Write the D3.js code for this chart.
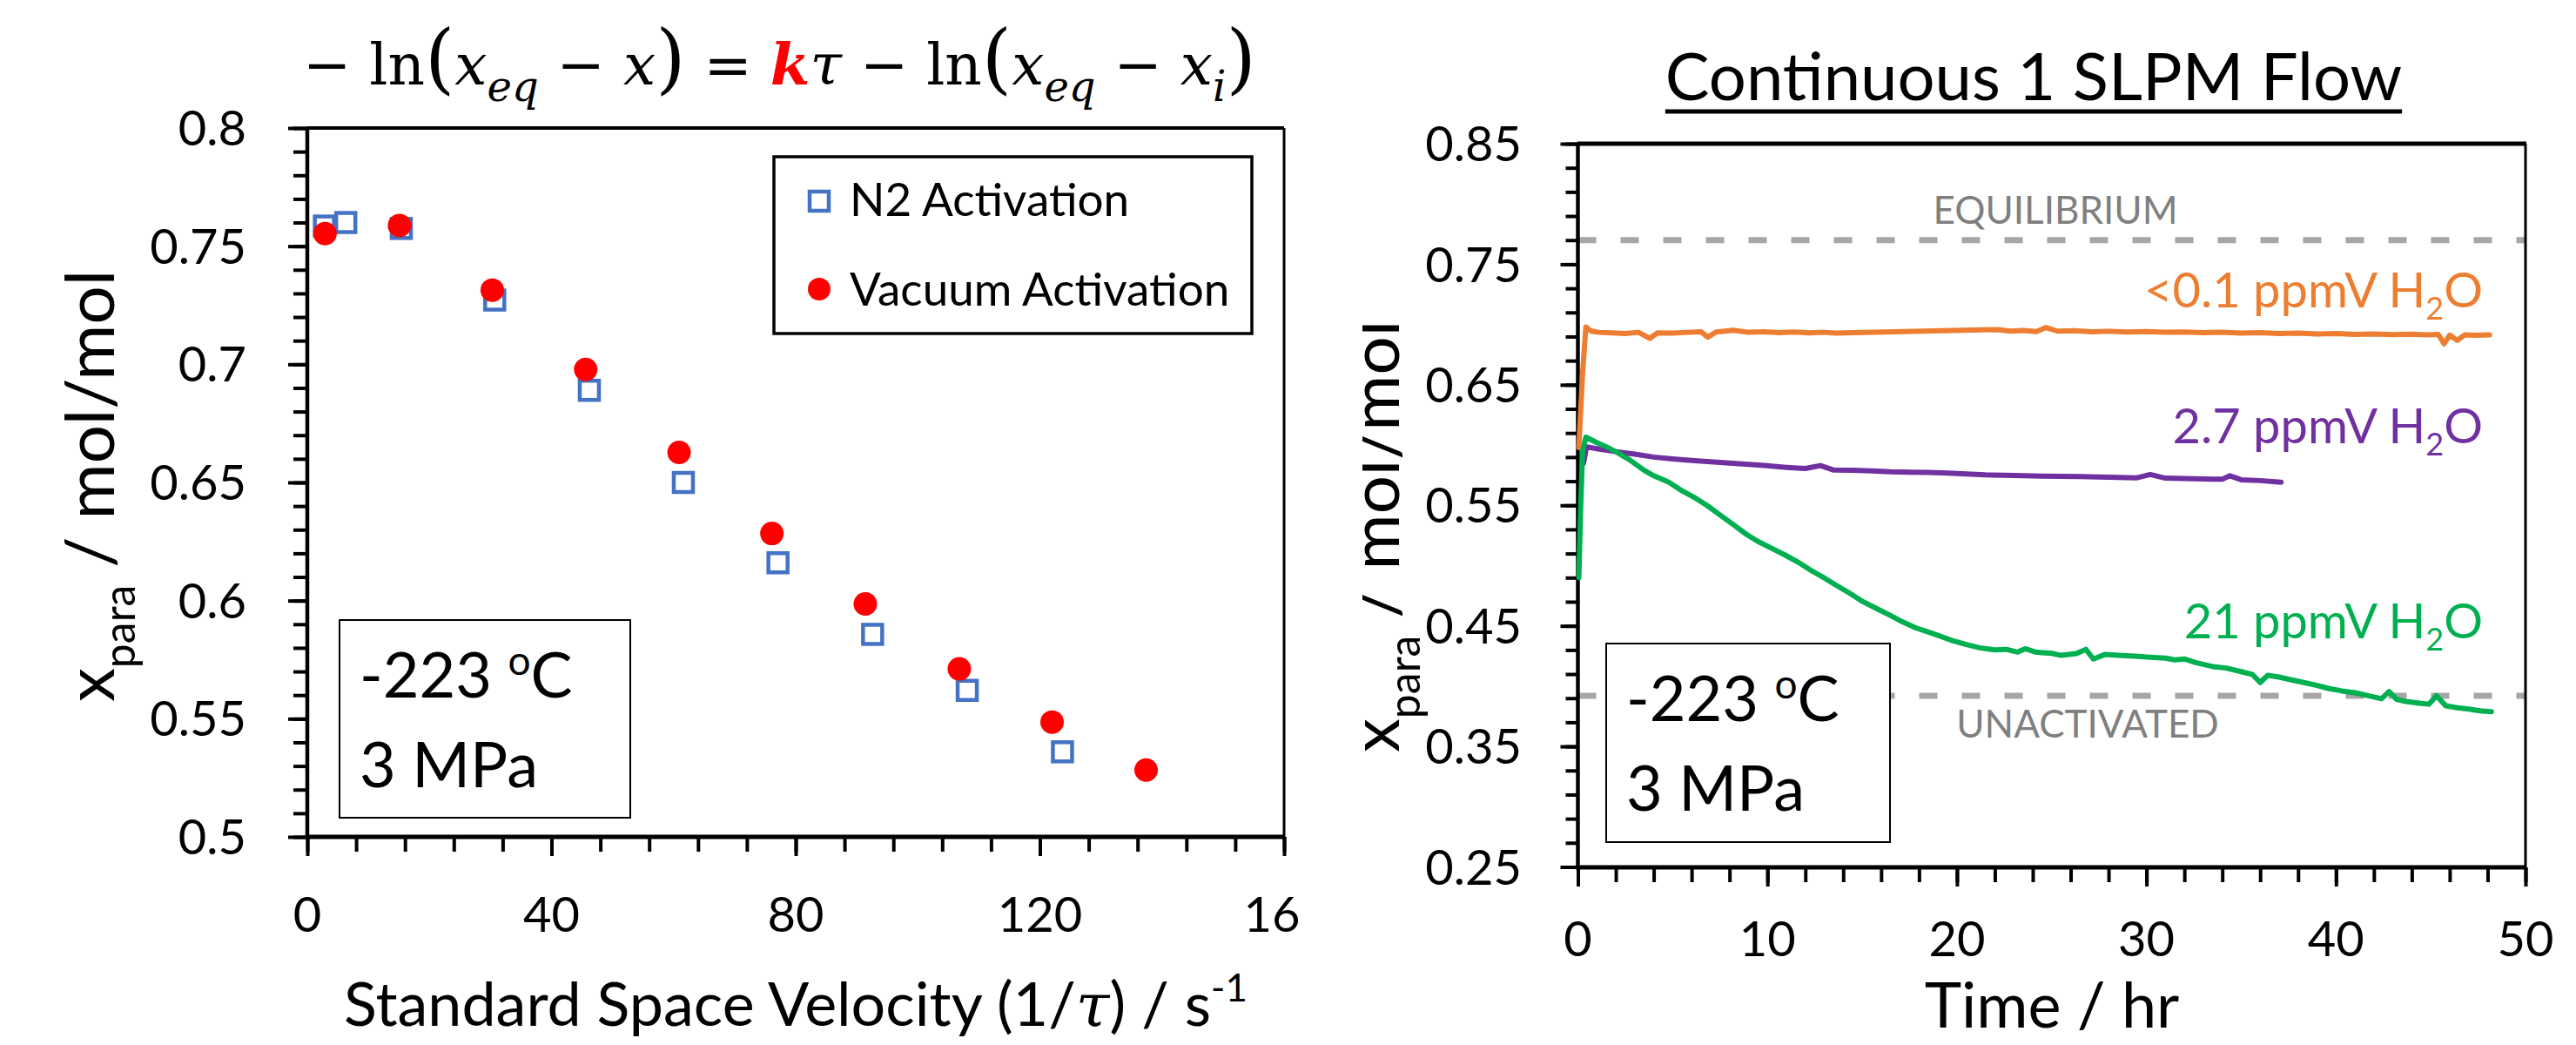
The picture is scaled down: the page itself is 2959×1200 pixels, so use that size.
<!DOCTYPE html>
<html>
<head>
<meta charset="utf-8">
<script src="https://cdn.jsdelivr.net/npm/d3@7"></script>
<style>
  body { margin: 0; background: #fff; }
  text { font-family: Lato, Carlito, "Open Sans", sans-serif; }
</style>
</head>
<body>
<svg id="chart" width="2959" height="1200"></svg>
<script>

// ---- left panel data: conversion vs space velocity ----
var velN2   = [2.8, 6.3, 15.4, 30.7, 46.2, 61.6, 77.1, 92.6, 108.1, 123.7];
var fracN2  = [0.7585, 0.760, 0.7575, 0.7272, 0.689, 0.650, 0.616, 0.5857, 0.562, 0.536];
var velVac  = [2.9, 15.1, 30.3, 45.6, 60.9, 76.1, 91.4, 106.8, 122.0, 137.4];
var fracVac = [0.7553, 0.7587, 0.7314, 0.6978, 0.6627, 0.6284, 0.5986, 0.5711, 0.5486, 0.5283];

var velTicks      = [0, 40, 80, 120, 160];
var velTickLabels = ["0", "40", "80", "120", "16"];   // last label is cut short in the original
var fracTicks      = [0.5, 0.55, 0.6, 0.65, 0.7, 0.75, 0.8];
var fracTickLabels = ["0.5", "0.55", "0.6", "0.65", "0.7", "0.75", "0.8"];

// ---- right panel data: continuous flow runs ----
var timeLow = [0.05, 0.12, 0.25, 0.42, 0.7, 1.1, 1.8, 2.5, 3.2, 3.8, 4.2, 5.0, 5.8, 6.5, 6.85, 7.3, 8.2, 9.0, 9.8,
  10.6, 11.4, 12.2, 13.0, 13.6, 14.1, 22.2, 22.8, 23.5, 24.2, 24.7, 25.3, 26.2, 27.1, 28.0, 29.0, 30.0, 31.0, 32.0,
  33.0, 34.0, 35.0, 36.0, 37.0, 38.0, 39.0, 40.0, 41.0, 42.0, 43.0, 44.0, 44.8, 45.4, 45.7, 46.0, 46.4, 46.8, 47.4, 48.1];
var fracLow = [0.598, 0.62, 0.66, 0.698, 0.6945, 0.6935, 0.6930, 0.6925, 0.6935, 0.6885, 0.6930, 0.6928, 0.6935,
  0.6940, 0.6895, 0.6938, 0.6952, 0.6935, 0.6940, 0.6932, 0.6938, 0.6930, 0.6935, 0.6928, 0.6930, 0.6958, 0.6945,
  0.6950, 0.6942, 0.6975, 0.6945, 0.6948, 0.6940, 0.6944, 0.6938, 0.6941, 0.6935, 0.6938, 0.6932, 0.6935, 0.6928,
  0.6932, 0.6925, 0.6928, 0.6922, 0.6925, 0.6918, 0.6921, 0.6916, 0.6919, 0.6914, 0.6917, 0.6840, 0.6912, 0.6868,
  0.6915, 0.6910, 0.6914];

var timeMid = [0.3, 0.45, 1.0, 2.0, 3.0, 4.0, 5.0, 6.0, 7.0, 8.0, 9.0, 10.0, 11.0, 12.0, 12.8, 13.5, 14.5, 15.5,
  16.5, 17.5, 18.5, 19.5, 20.5, 21.5, 22.5, 23.5, 24.5, 25.5, 26.5, 27.5, 28.5, 29.5, 30.2, 31.0, 32.0, 33.0, 34.0,
  34.4, 35.0, 36.0, 37.1];
var fracMid = [0.585, 0.5985, 0.5970, 0.5945, 0.5925, 0.5900, 0.5885, 0.5872, 0.5862, 0.5850, 0.5840, 0.5828,
  0.5815, 0.5805, 0.5830, 0.5792, 0.5790, 0.5785, 0.5778, 0.5775, 0.5772, 0.5768, 0.5760, 0.5752, 0.5750, 0.5746,
  0.5742, 0.5740, 0.5738, 0.5735, 0.5732, 0.5728, 0.5755, 0.5725, 0.5722, 0.5718, 0.5716, 0.5745, 0.5712, 0.5705,
  0.5692];

var timeHigh = [0.05, 0.15, 0.25, 0.42, 1.0, 1.5, 2.0, 2.7, 3.5, 4.0, 4.8, 5.5, 6.2, 6.8, 7.5, 8.2, 8.9, 9.5, 10.2,
  10.9, 11.6, 12.3, 13.0, 13.7, 14.4, 15.0, 15.8, 16.5, 17.1, 17.8, 18.5, 19.1, 19.8, 20.5, 21.2, 22.0, 22.6, 23.2,
  23.6, 24.2, 25.0, 25.5, 26.3, 26.8, 27.2, 27.8, 28.5, 29.4, 30.2, 31.0, 31.5, 32.0, 32.6, 33.5, 34.2, 35.0, 35.6,
  36.0, 36.4, 37.0, 37.6, 38.3, 39.0, 39.6, 40.3, 41.0, 41.7, 42.4, 42.8, 43.2, 43.7, 44.3, 44.9, 45.3, 45.8, 46.4,
  47.0, 47.6, 48.2];
var fracHigh = [0.490, 0.550, 0.595, 0.6065, 0.6020, 0.5985, 0.5945, 0.5880, 0.5790, 0.5745, 0.5692, 0.5620,
  0.5560, 0.5500, 0.5420, 0.5340, 0.5258, 0.5200, 0.5145, 0.5090, 0.5030, 0.4960, 0.4897, 0.4830, 0.4765, 0.4704,
  0.4640, 0.4585, 0.4535, 0.4485, 0.4448, 0.4415, 0.4375, 0.4345, 0.4318, 0.4300, 0.4305, 0.4282, 0.4310, 0.4280,
  0.4272, 0.4255, 0.4270, 0.4305, 0.4225, 0.4262, 0.4255, 0.4248, 0.4240, 0.4232, 0.4218, 0.4225, 0.4195, 0.4162,
  0.4150, 0.4120, 0.4095, 0.4030, 0.4090, 0.4075, 0.4053, 0.4030, 0.4005, 0.3981, 0.3960, 0.3945, 0.3920, 0.3895,
  0.3955, 0.3890, 0.3872, 0.3860, 0.3850, 0.3920, 0.3836, 0.3820, 0.3810, 0.3795, 0.3788];

var timeTicks      = [0, 10, 20, 30, 40, 50];
var timeTickLabels = ["0", "10", "20", "30", "40", "50"];
var paraTicks      = [0.25, 0.35, 0.45, 0.55, 0.65, 0.75, 0.85];
var paraTickLabels = ["0.25", "0.35", "0.45", "0.55", "0.65", "0.75", "0.85"];

var equilibriumFrac = 0.77;
var unactivatedFrac = 0.392;

var seriesLabels = ["<0.1 ppmV H", "2.7 ppmV H", "21 ppmV H"];
var seriesColors = ["#ED7D31", "#7030A0", "#00B050"];
var seriesLabelFrac = [0.7145, 0.6015, 0.4395];


var svg = d3.select("#chart");
var defs = svg.append("defs");
defs.append("clipPath").attr("id", "clipRight")
  .append("rect").attr("x", 1565).attr("y", 0).attr("width", 1394).attr("height", 1200);

// style a d3 axis group: thick black ticks, no labels, no domain path
function styleAxis(g) {
  g.select(".domain").remove();
  g.selectAll(".tick line").attr("stroke", "#000").attr("stroke-width", 4);
}

// tick labels placed with the scale
function xLabels(g, scale, ticks, labels, baseline) {
  g.selectAll(null).data(ticks).enter().append("text")
    .attr("x", function(d) { return scale(d); }).attr("y", baseline)
    .attr("text-anchor", "middle").attr("font-size", 56)
    .text(function(d, i) { return labels[i]; });
}
function yLabels(g, scale, ticks, labels, xEnd) {
  g.selectAll(null).data(ticks).enter().append("text")
    .attr("x", xEnd).attr("y", function(d) { return scale(d); }).attr("dy", "0.36em")
    .attr("text-anchor", "end").attr("font-size", 56)
    .text(function(d, i) { return labels[i]; });
}

// temperature / pressure note box
function conditionBox(g, x, y, w, h, tx, b1, b2) {
  g.append("rect").attr("x", x).attr("y", y).attr("width", w).attr("height", h)
    .attr("fill", "#fff").attr("stroke", "#000").attr("stroke-width", 2);
  var t1 = g.append("text").attr("x", tx).attr("y", b1).attr("font-size", 72);
  t1.append("tspan").text("-223 ");
  t1.append("tspan").attr("font-size", 46).attr("dy", -26).text("o");
  t1.append("tspan").attr("dy", 26).text("C");
  g.append("text").attr("x", tx).attr("y", b2).attr("font-size", 72).text("3 MPa");
}

// rotated y title  x_para / mol/mol
function yTitle(g, x, y) {
  var t = g.append("text").attr("transform", "translate(" + x + "," + y + ") rotate(-90)")
    .attr("text-anchor", "middle").attr("font-size", 78);
  t.append("tspan").text("x");
  t.append("tspan").attr("font-size", 50).attr("dy", 24).text("para");
  t.append("tspan").attr("dy", -24).text(" / mol/mol");
}

/* ================= LEFT PANEL ================= */
var left = svg.append("g");

var xL = d3.scaleLinear().domain([0, 160]).range([353, 1475]);
var yL = d3.scaleLinear().domain([0.5, 0.8]).range([961, 147]);

left.append("g").attr("transform", "translate(0,961)")
  .call(d3.axisBottom(xL).tickValues(d3.range(0, 161, 8)).tickSize(17).tickSizeOuter(0).tickFormat(""))
  .call(styleAxis);
left.append("g").attr("transform", "translate(0,961)")
  .call(d3.axisBottom(xL).tickValues(velTicks).tickSize(22).tickSizeOuter(0).tickFormat(""))
  .call(styleAxis);
left.append("g").attr("transform", "translate(353,0)")
  .call(d3.axisLeft(yL).tickValues(d3.range(0, 31).map(function(i) { return 0.5 + i * 0.01; }))
    .tickSize(16).tickSizeOuter(0).tickFormat(""))
  .call(styleAxis);
left.append("g").attr("transform", "translate(353,0)")
  .call(d3.axisLeft(yL).tickValues(fracTicks).tickSize(22).tickSizeOuter(0).tickFormat(""))
  .call(styleAxis);

xLabels(left, xL, velTicks, velTickLabels, 1070);
left.selectAll("text").filter(function(d) { return d === 160; }).attr("dx", -14);
yLabels(left, yL, fracTicks, fracTickLabels, 283);

// frame
left.append("line").attr("x1", 353).attr("x2", 1475).attr("y1", yL(0.8)).attr("y2", yL(0.8))
  .attr("stroke", "#000").attr("stroke-width", 4);
left.append("line").attr("x1", xL(160)).attr("x2", xL(160)).attr("y1", 147).attr("y2", 961)
  .attr("stroke", "#000").attr("stroke-width", 3);
left.append("line").attr("x1", 353).attr("x2", 353).attr("y1", 147).attr("y2", 963)
  .attr("stroke", "#000").attr("stroke-width", 4.5);
left.append("line").attr("x1", 351).attr("x2", 1476).attr("y1", 961).attr("y2", 961)
  .attr("stroke", "#000").attr("stroke-width", 5);

// equation title
var eq = left.append("text").attr("x", 348).attr("y", 97).attr("font-size", 66)
  .style("font-family", "'DejaVu Serif', 'Liberation Serif', serif");
function eqPart(txt, opts) {
  var s = eq.append("tspan").text(txt);
  opts = opts || {};
  if (opts.italic) s.attr("font-style", "italic");
  if (opts.size) s.attr("font-size", opts.size);
  if (opts.dy) s.attr("dy", opts.dy);
  if (opts.fill) s.attr("fill", opts.fill);
  if (opts.bold) s.attr("font-weight", "bold");
  return s;
}
eqPart("\u2212 ln");
eqPart("(", { size: 88 });
eqPart("x", { italic: true });
eqPart("eq", { italic: true, size: 48, dy: 19 });
eqPart(" \u2212 ", { dy: -19 });
eqPart("x", { italic: true });
eqPart(")", { size: 88 });
eqPart(" = ");
eqPart("k", { italic: true, bold: true, fill: "#FF0000" });
eqPart("\u03C4", { italic: true });
eqPart(" \u2212 ln");
eqPart("(", { size: 88 });
eqPart("x", { italic: true });
eqPart("eq", { italic: true, size: 48, dy: 19 });
eqPart(" \u2212 ", { dy: -19 });
eqPart("x", { italic: true });
eqPart("i", { italic: true, size: 48, dy: 19 });
eqPart(")", { size: 88, dy: -19 });

// text box
conditionBox(left, 390, 712, 334, 227, 413, 801, 904);

// legend
left.append("rect").attr("x", 889).attr("y", 180).attr("width", 549).attr("height", 203)
  .attr("fill", "#fff").attr("stroke", "#000").attr("stroke-width", 3.5);
left.append("rect").attr("x", 941 - 11).attr("y", 231 - 11).attr("width", 22).attr("height", 22)
  .attr("fill", "none").attr("stroke", "#4472C4").attr("stroke-width", 4.5);
left.append("circle").attr("cx", 941).attr("cy", 332).attr("r", 13).attr("fill", "#FF0000");
left.append("text").attr("x", 976).attr("y", 248).attr("font-size", 53).text("N2 Activation");
left.append("text").attr("x", 976).attr("y", 351).attr("font-size", 53).text("Vacuum Activation");

// markers
left.selectAll("rect.n2").data(velN2).enter().append("rect").attr("class", "n2")
  .attr("x", function(d) { return xL(d) - 11; })
  .attr("y", function(d, i) { return yL(fracN2[i]) - 11; })
  .attr("width", 22).attr("height", 22)
  .attr("fill", "none").attr("stroke", "#4472C4").attr("stroke-width", 4.5);
left.selectAll("circle.vac").data(velVac).enter().append("circle").attr("class", "vac")
  .attr("cx", function(d) { return xL(d); })
  .attr("cy", function(d, i) { return yL(fracVac[i]); })
  .attr("r", 13.5).attr("fill", "#FF0000");

// axis titles
var xt = left.append("text").attr("x", 914).attr("y", 1178).attr("text-anchor", "middle").attr("font-size", 70);
xt.append("tspan").text("Standard Space Velocity (1/");
xt.append("tspan").attr("font-style", "italic").style("font-family", "'DejaVu Serif', serif").text("\u03C4");
xt.append("tspan").text(") / s");
xt.append("tspan").attr("font-size", 44).attr("dy", -28).text("-1");
yTitle(left, 131, 558);

/* ================= RIGHT PANEL ================= */
var right = svg.append("g").attr("clip-path", "url(#clipRight)");

var xR = d3.scaleLinear().domain([0, 50]).range([1812.5, 2901]);
var yR = d3.scaleLinear().domain([0.25, 0.85]).range([995.5, 165]);

right.append("g").attr("transform", "translate(0,996)")
  .call(d3.axisBottom(xR).tickValues(d3.range(0, 51, 2)).tickSize(17).tickSizeOuter(0).tickFormat(""))
  .call(styleAxis);
right.append("g").attr("transform", "translate(0,996)")
  .call(d3.axisBottom(xR).tickValues(timeTicks).tickSize(22).tickSizeOuter(0).tickFormat(""))
  .call(styleAxis);
right.append("g").attr("transform", "translate(1812.5,0)")
  .call(d3.axisLeft(yR).tickValues(d3.range(0, 31).map(function(i) { return 0.25 + i * 0.02; }))
    .tickSize(14).tickSizeOuter(0).tickFormat(""))
  .call(styleAxis);
right.append("g").attr("transform", "translate(1812.5,0)")
  .call(d3.axisLeft(yR).tickValues(paraTicks).tickSize(20).tickSizeOuter(0).tickFormat(""))
  .call(styleAxis);

xLabels(right, xR, timeTicks, timeTickLabels, 1098);
yLabels(right, yR, paraTicks, paraTickLabels, 1748);

// reference lines
[equilibriumFrac, unactivatedFrac].forEach(function(v) {
  right.append("line").attr("x1", 1812.5).attr("x2", 2901).attr("y1", yR(v)).attr("y2", yR(v))
    .attr("stroke", "#A6A6A6").attr("stroke-width", 7).attr("stroke-dasharray", "21,28");
});
right.append("text").attr("x", 2361).attr("y", 257).attr("text-anchor", "middle")
  .attr("font-size", 44).attr("fill", "#7F7F7F").text("EQUILIBRIUM");
right.append("text").attr("x", 2398).attr("y", 847).attr("text-anchor", "middle")
  .attr("font-size", 44).attr("fill", "#7F7F7F").text("UNACTIVATED");

// frame
right.append("line").attr("x1", 1812).attr("x2", 2902).attr("y1", 165).attr("y2", 165)
  .attr("stroke", "#000").attr("stroke-width", 5);
right.append("line").attr("x1", 2901).attr("x2", 2901).attr("y1", 165).attr("y2", 996)
  .attr("stroke", "#000").attr("stroke-width", 3);
right.append("line").attr("x1", 1812.5).attr("x2", 1812.5).attr("y1", 165).attr("y2", 998)
  .attr("stroke", "#000").attr("stroke-width", 4.5);
right.append("line").attr("x1", 1810).attr("x2", 2902).attr("y1", 996).attr("y2", 996)
  .attr("stroke", "#000").attr("stroke-width", 5);

// data lines
var line = d3.line().x(function(d) { return xR(d[0]); }).y(function(d) { return yR(d[1]); });
var runs = [
  { t: timeMid, v: fracMid, c: seriesColors[1] },
  { t: timeLow, v: fracLow, c: seriesColors[0] },
  { t: timeHigh, v: fracHigh, c: seriesColors[2] }
];
runs.forEach(function(r) {
  right.append("path").datum(r.t.map(function(t, i) { return [t, r.v[i]]; }))
    .attr("d", line).attr("fill", "none").attr("stroke", r.c)
    .attr("stroke-width", 6).attr("stroke-linejoin", "round").attr("stroke-linecap", "round");
});

// series labels
seriesLabels.forEach(function(lab, i) {
  var t = right.append("text").attr("x", 2852).attr("y", yR(seriesLabelFrac[i]))
    .attr("text-anchor", "end").attr("font-size", 56).attr("fill", seriesColors[i]);
  t.append("tspan").text(lab);
  t.append("tspan").attr("font-size", 36).attr("dy", 14).text("2");
  t.append("tspan").attr("dy", -14).text("O");
});

// box, title, axis titles
conditionBox(right, 1845, 739, 326, 228, 1868, 828, 931);

var title = right.append("text").attr("x", 2336).attr("y", 115).attr("text-anchor", "middle")
  .attr("font-size", 76).text("Continuous 1 SLPM Flow");
var tw = title.node().getComputedTextLength();
right.append("line").attr("x1", 2336 - tw / 2).attr("x2", 2336 + tw / 2).attr("y1", 128).attr("y2", 128)
  .attr("stroke", "#000").attr("stroke-width", 5);

right.append("text").attr("x", 2357).attr("y", 1180).attr("text-anchor", "middle")
  .attr("font-size", 72).text("Time / hr");
yTitle(right, 1607, 616);

</script>
</body>
</html>
